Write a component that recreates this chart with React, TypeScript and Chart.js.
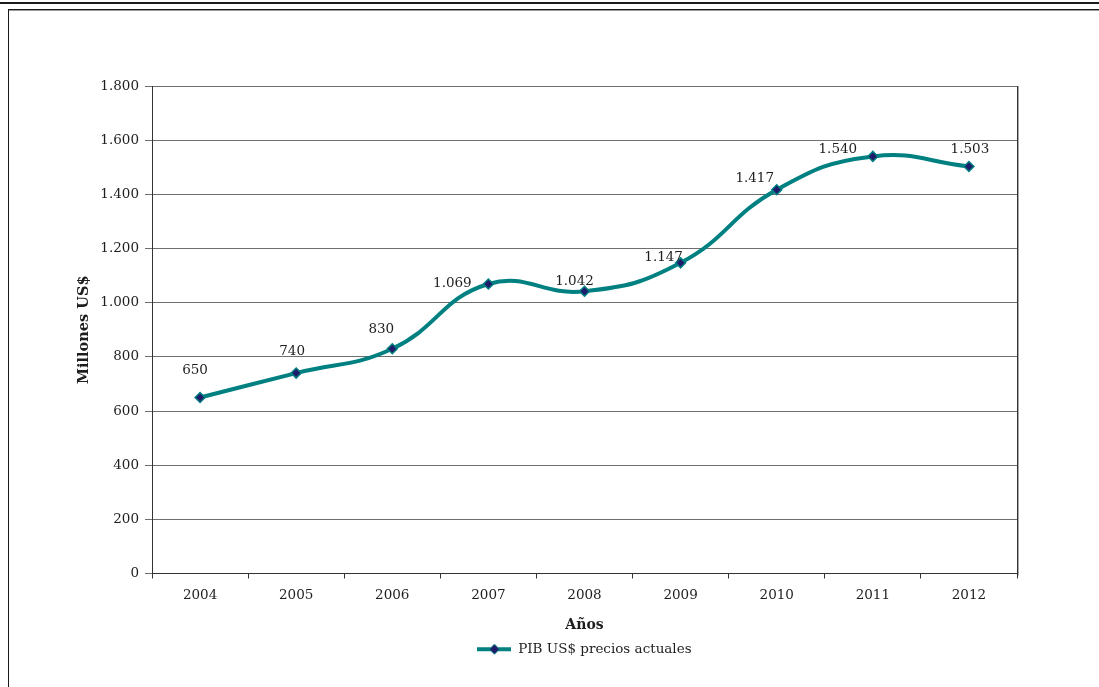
import React, { useEffect, useRef } from "react";
import { Chart, registerables } from "chart.js";

Chart.register(...registerables);

const years: string[] = ["2004", "2005", "2006", "2007", "2008", "2009", "2010", "2011", "2012"];
const pibValues: number[] = [650, 740, 830, 1069, 1042, 1147, 1417, 1540, 1503];
const seriesLabel = "PIB US$ precios actuales";
const xTitle = "Años";
const yTitle = "Millones US$";
const yMin = 0;
const yMax = 1800;
const yStep = 200;

// label placement relative to each point (dx, dy) in px
const labelOffsets: [number, number][] = [
  [-5, -27], [-4, -22], [-11, -19], [-36, 0], [-10, -10],
  [-17, -5], [-22, -11], [-35, -7], [1, -17],
];

const FONT = "'DejaVu Serif', 'Liberation Serif', serif";
const TEXT = "#1e1e1e";
const TEAL = "#008080";
const NAVY = "#1f1b6b";

function fmt(v: number): string {
  return String(v).replace(/\B(?=(\d{3})+(?!\d))/g, ".");
}

function makeLegendIcon(): HTMLCanvasElement {
  const c = document.createElement("canvas");
  c.width = 34;
  c.height = 12;
  const g = c.getContext("2d")!;
  g.strokeStyle = TEAL;
  g.lineWidth = 4;
  g.beginPath();
  g.moveTo(0, 6);
  g.lineTo(34, 6);
  g.stroke();
  g.fillStyle = NAVY;
  g.strokeStyle = TEAL;
  g.lineWidth = 1;
  g.beginPath();
  g.moveTo(17, 1);
  g.lineTo(22, 6);
  g.lineTo(17, 11);
  g.lineTo(12, 6);
  g.closePath();
  g.fill();
  g.stroke();
  return c;
}

const dataLabelPlugin = {
  id: "dataLabels",
  afterDatasetsDraw(chart: any) {
    const meta = chart.getDatasetMeta(0);
    const ctx = chart.ctx;
    ctx.save();
    ctx.font = `13.5px ${FONT}`;
    ctx.fillStyle = TEXT;
    ctx.textAlign = "center";
    ctx.textBaseline = "middle";
    meta.data.forEach((pt: any, i: number) => {
      const [dx, dy] = labelOffsets[i];
      ctx.fillText(fmt(pibValues[i]), pt.x + dx, pt.y + dy);
    });
    ctx.restore();
  },
};

const legendCenterPlugin = {
  id: "legendCenter",
  afterLayout(chart: any) {
    const lg = chart.legend;
    if (lg) {
      lg.left = chart.chartArea.left;
      lg.right = chart.chartArea.right;
    }
  },
};

const borderPlugin = {
  id: "rightBorder",
  afterDraw(chart: any) {
    const { ctx, chartArea } = chart;
    ctx.save();
    ctx.strokeStyle = "#333333";
    ctx.lineWidth = 1;
    ctx.beginPath();
    ctx.moveTo(Math.round(chartArea.right) + 0.5, chartArea.top);
    ctx.lineTo(Math.round(chartArea.right) + 0.5, chartArea.bottom);
    ctx.stroke();
    ctx.strokeStyle = "#aaaaaa";
    ctx.beginPath();
    ctx.moveTo(Math.round(chartArea.right) + 1.5, chartArea.top);
    ctx.lineTo(Math.round(chartArea.right) + 1.5, chartArea.bottom + 2);
    ctx.stroke();
    ctx.restore();
  },
};

export default function App() {
  const ref = useRef<HTMLCanvasElement>(null);

  useEffect(() => {
    if (!ref.current) return;
    const icon = makeLegendIcon();
    const chart = new Chart(ref.current, {
      type: "line",
      data: {
        labels: years,
        datasets: [
          {
            label: seriesLabel,
            data: pibValues,
            borderColor: TEAL,
            borderWidth: 4,
            tension: 0.45,
            fill: false,
            pointStyle: "rectRot",
            pointRadius: 5,
            pointBackgroundColor: NAVY,
            pointBorderColor: TEAL,
            pointBorderWidth: 1.5,
          },
        ],
      },
      options: {
        animation: false,
        responsive: false,
        maintainAspectRatio: false,
        layout: { padding: { left: 8, top: 86, right: 82, bottom: 21 } },
        plugins: {
          tooltip: { enabled: false },
          legend: {
            position: "bottom",
            labels: {
              usePointStyle: true,
              pointStyleWidth: 34,
              padding: 4,
              color: TEXT,
              font: { family: FONT, size: 13.5 },
              generateLabels: (c: any) => {
                const items = Chart.defaults.plugins.legend.labels.generateLabels(c);
                items.forEach((it: any) => {
                  it.pointStyle = icon;
                });
                return items;
              },
            },
          },
        },
        scales: {
          x: {
            offset: true,
            grid: {
              display: true,
              drawOnChartArea: false,
              offset: true,
              tickLength: 5,
              color: "#333333",
            },
            border: { color: "#333333", width: 1 },
            ticks: {
              color: TEXT,
              padding: 9,
              font: { family: FONT, size: 13.5 },
              maxRotation: 0,
            },
            title: {
              display: true,
              text: xTitle,
              color: TEXT,
              font: { family: FONT, size: 14, weight: "bold" },
              padding: { top: 0, bottom: 5 },
            },
            afterFit: (s: any) => {
              s.height = 65;
            },
          },
          y: {
            min: yMin,
            max: yMax,
            grid: { color: "#6e6e6e", tickLength: 7 },
            border: { color: "#333333", width: 1 },
            ticks: {
              stepSize: yStep,
              color: TEXT,
              padding: 6,
              font: { family: FONT, size: 13.5 },
              callback: (v: any) => fmt(Number(v)),
            },
            title: {
              display: true,
              text: yTitle,
              color: TEXT,
              font: { family: FONT, size: 14.5, weight: "bold" },
              padding: { top: 68, bottom: 0 },
            },
            afterFit: (s: any) => {
              s.width = 144;
            },
          },
        },
      },
      plugins: [legendCenterPlugin, dataLabelPlugin, borderPlugin],
    });
    return () => chart.destroy();
  }, []);

  return (
    <div
      style={{
        position: "fixed",
        left: 0,
        top: 0,
        width: 1099,
        height: 687,
        background: "#ffffff",
        overflow: "hidden",
      }}
    >
      <canvas ref={ref} width={1099} height={687} style={{ position: "absolute", left: 0, top: 0 }} />
      <div style={{ position: "absolute", left: 0, top: 2, width: 1099, height: 2, background: "#1a1a1a" }} />
      <div style={{ position: "absolute", left: 8, top: 9, width: 1091, height: 1, background: "#1a1a1a" }} />
      <div style={{ position: "absolute", left: 9, top: 10, width: 1090, height: 1, background: "#9a9a9a" }} />
      <div style={{ position: "absolute", left: 8, top: 9, width: 1, height: 678, background: "#1a1a1a" }} />
    </div>
  );
}
